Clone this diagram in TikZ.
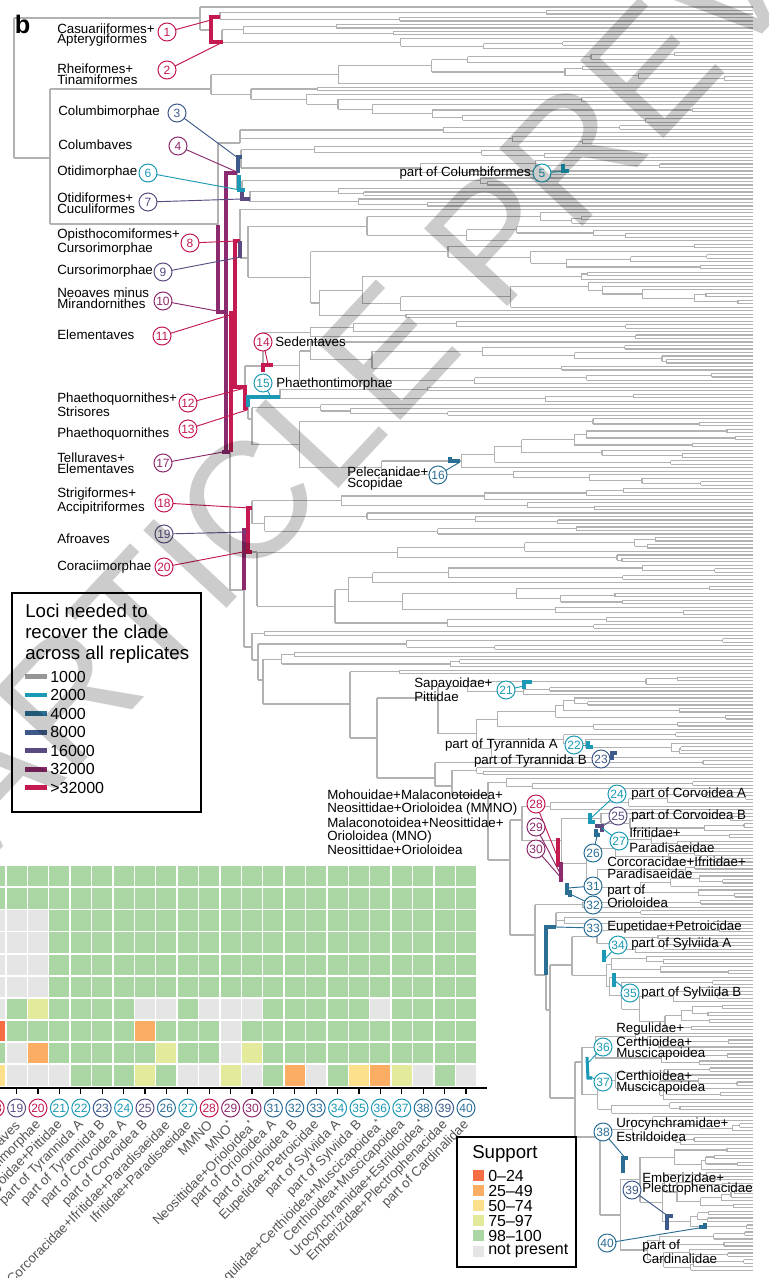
\documentclass[tikz,border=0pt]{standalone}
\usepackage{fontspec}
\setmainfont{Liberation Sans}
\definecolor{brc}{RGB}{178,178,178}
\definecolor{cT}{RGB}{28,154,181}
\definecolor{c4}{RGB}{42,110,150}
\definecolor{c8}{RGB}{62,90,138}
\definecolor{c16}{RGB}{91,75,128}
\definecolor{c32}{RGB}{139,42,108}
\definecolor{cR}{RGB}{196,26,80}
\definecolor{c1k}{RGB}{150,150,150}
\definecolor{hR}{RGB}{244,109,67}
\definecolor{hO}{RGB}{250,173,99}
\definecolor{hW}{RGB}{252,224,139}
\definecolor{hY}{RGB}{228,234,155}
\definecolor{hG}{RGB}{170,214,164}
\definecolor{hX}{RGB}{229,229,229}
\definecolor{labgray}{RGB}{85,85,85}
\tikzset{
  br/.style={draw=brc, line width=0.85pt},
  mk/.style={line width=2.3pt},
  ld/.style={line width=0.7pt},
  num/.style={circle, draw=#1, text=#1, fill=white, line width=0.75pt, minimum size=13.5pt, inner sep=0pt, font=\fontsize{9}{9}\selectfont},
  lab/.style={inner sep=0pt, align=left, font=\fontsize{10}{8}\selectfont},
  clab/.style={inner sep=0pt, text=labgray, font=\fontsize{10}{10}\selectfont, rotate=45, anchor=east},
}
% vertical line spanning three y values
\newcommand\tvspan[4]{%
  \pgfmathsetmacro\tvmin{min(#2,#3,#4)}%
  \pgfmathsetmacro\tvmax{max(#2,#3,#4)}%
  \draw[br] (#1,\tvmin) -- (#1,\tvmax);}
% random subtree with stem from parent x
\newcommand\trtree[3]{%
  \begingroup
  \edef\rlo{#1}\edef\rhi{#2}\edef\rpx{#3}%
  \ifnum\rlo=\rhi\relax
    \pgfmathsetmacro\ry{7+3.49*(\rlo-1)}%
    \draw[br] (\rpx,\ry) -- (753,\ry);
    \xdef\retY{\ry}%
  \else
    \pgfmathsetmacro\rn{\rhi-\rlo+1}%
    \pgfmathsetmacro\rw{min(0.93,0.02+rnd*(0.1+1.6/\rn))}%
    \pgfmathsetmacro\rx{753-(753-\rpx)*(1-\rw)}%
    \trnode{\rlo}{\rhi}{\rx}%
    \draw[br] (\rpx,\retY) -- (\rx,\retY);
  \fi
  \endgroup}
% random node at fixed x
\newcommand\trnode[3]{%
  \begingroup
  \edef\qlo{#1}\edef\qhi{#2}\edef\qx{#3}%
  \ifnum\qlo=\qhi\relax
    \pgfmathsetmacro\qy{7+3.49*(\qlo-1)}%
    \draw[br] (\qx,\qy) -- (753,\qy);
    \xdef\retY{\qy}%
  \else
    \pgfmathtruncatemacro\qm{\qlo+min(floor(rnd*(\qhi-\qlo)),\qhi-\qlo-1)}%
    \pgfmathtruncatemacro\qmm{\qm+1}%
    \trtree{\qlo}{\qm}{\qx}\let\qya\retY
    \trtree{\qmm}{\qhi}{\qx}\let\qyb\retY
    \draw[br] (\qx,\qya) -- (\qx,\qyb);
    \pgfmathsetmacro\qyc{(\qya+\qyb)/2}%
    \xdef\retY{\qyc}%
  \fi
  \endgroup}
% fixed node (x,y) with two random children lo..mid, mid+1..hi
\newcommand\thnode[5]{%
  \begingroup
  \pgfmathtruncatemacro\hmid{#4+1}%
  \trtree{#3}{#4}{#1}\let\hya\retY
  \trtree{\hmid}{#5}{#1}\let\hyb\retY
  \tvspan{#1}{\hya}{\hyb}{#2}%
  \endgroup}

\begin{document}
\begin{tikzpicture}[x=0.75pt, y=-0.75pt]
\useasboundingbox (0,0) rectangle (768,1278);
\clip (0,0) rectangle (768,1278);
\fill[white] (0,0) rectangle (768,1278);
\pgfmathsetseed{11}
% ---------------- tree ----------------
\draw[br] (14,18) -- (14,158);
\draw[br] (14,18) -- (200,18);
\draw[br] (14,158) -- (50,158);
\trnode{1}{1}{200}
\tvspan{200}{7}{30}{18}
\draw[br] (200,30) -- (211,30);
\thnode{220}{17}{2}{3}{5}
\thnode{222}{42}{6}{9}{13}
\draw[br] (211,17) -- (220,17);
\draw[br] (211,42) -- (222,42);
\draw[br] (211,17) -- (211,42);
\draw[br] (50,89) -- (50,224);
\draw[br] (50,89) -- (211,89);
\thnode{211}{89}{14}{23}{34}
\draw[br] (50,224) -- (218,224);
\draw[br] (218,143) -- (218,312);
\draw[br] (218,143) -- (240,143);
\thnode{240}{143}{35}{37}{40}
\draw[br] (218,312) -- (226,312);
\draw[br] (226,173) -- (226,452);
\draw[br] (226,173) -- (237,173);
\draw[br] (237,157) -- (237,190);
\draw[br] (237,157) -- (241,157);
\thnode{241}{157}{41}{44}{49}
\draw[br] (237,190) -- (242,190);
\trtree{50}{52}{242}\let\yMu\retY
\tvspan{242}{\yMu}{199}{190}
\draw[br] (242,199) -- (250,199);
\thnode{250}{199}{53}{55}{58}
\draw[br] (226,452) -- (230,452);
\draw[br] (230,313) -- (230,590);
\draw[br] (230,313) -- (235,313);
\draw[br] (235,241) -- (235,387);
\draw[br] (235,241) -- (240,241);
\trnode{59}{59}{240}
\draw[br] (240,209.4) -- (240,258);
\draw[br] (240,258) -- (248,258);
\thnode{248}{258}{60}{68}{90}
\draw[br] (235,387) -- (245,387);
\draw[br] (245,366) -- (245,408);
\draw[br] (245,366) -- (263,366);
\thnode{263}{366}{91}{96}{109}
\draw[br] (245,408) -- (248,408);
\draw[br] (248,397) -- (248,419);
\draw[br] (248,397) -- (280,397);
\thnode{280}{397}{110}{111}{114}
\draw[br] (248,419) -- (252,419);
\thnode{252}{419}{115}{118}{138}
\draw[br] (230,590) -- (244,590);
\draw[br] (244,530) -- (244,647);
\draw[br] (244,530) -- (248,530);
\draw[br] (248,508) -- (248,552);
\draw[br] (248,508) -- (252,508);
\thnode{252}{508}{139}{145}{152}
\draw[br] (248,552) -- (257,552);
\thnode{257}{552}{153}{160}{179}
\draw[br] (244,647) -- (252,647);
\trtree{180}{181}{252}\let\yCar\retY
\tvspan{252}{\yCar}{660}{647}
\draw[br] (252,660) -- (258,660);
\trtree{182}{185}{258}\let\yFal\retY
\tvspan{258}{\yFal}{680}{660}
\draw[br] (258,680) -- (263,680);
\trtree{186}{190}{263}\let\yPsi\retY
\tvspan{263}{\yPsi}{704}{680}
\draw[br] (263,704) -- (350,704);
\trtree{191}{192}{350}\let\yAc\retY
\tvspan{350}{\yAc}{738}{704}
\draw[br] (350,738) -- (377,738);
\draw[br] (377,698) -- (377,778);
\draw[br] (377,698) -- (438,698);
\thnode{438}{698}{193}{198}{216}
\draw[br] (377,778) -- (435,778);
\trtree{217}{218}{435}\let\yLa\retY
\tvspan{435}{\yLa}{786}{778}
\draw[br] (435,786) -- (452,786);
\trtree{219}{221}{452}\let\yLb\retY
\tvspan{452}{\yLb}{795}{786}
\draw[br] (452,795) -- (488,795);
\trtree{222}{225}{488}\let\yLc\retY
\tvspan{488}{\yLc}{860}{795}
\draw[br] (488,860) -- (510,860);
\draw[br] (510,820) -- (510,935);
\draw[br] (510,820) -- (522,820);
\thnode{522}{820}{226}{231}{256}
\draw[br] (510,935) -- (535,935);
\trtree{257}{259}{535}\let\yPa\retY
\tvspan{535}{\yPa}{975}{935}
\draw[br] (535,975) -- (546,975);
\draw[br] (546,927) -- (546,1010);
\draw[br] (546,927) -- (556,927);
\thnode{556}{927}{260}{261}{264}
\draw[br] (546,1010) -- (550,1010);
\draw[br] (550,965) -- (550,1098);
\draw[br] (550,965) -- (572,965);
\thnode{572}{965}{265}{272}{294}
\draw[br] (550,1098) -- (575,1098);
\draw[br] (575,1062) -- (575,1137);
\draw[br] (575,1062) -- (582,1062);
\thnode{582}{1062}{295}{304}{318}
\draw[br] (575,1137) -- (600,1137);
\thnode{600}{1137}{319}{327}{363}
% ---------------- clade markers ----------------
\draw[mk,cR] (220,17) -- (211,17) -- (211,42) -- (223,42);
\draw[mk,cR] (240,241) -- (235,241) -- (235,387) -- (245,387) -- (245,408) -- (248,408);
\draw[mk,cR] (235,313) -- (231,313) -- (231,452);
\draw[mk,cR] (263,372) -- (263,365) -- (273,365);
\draw[mk,cR] (252,508) -- (248,508) -- (248,552) -- (252,552);
\draw[mk,cR] (558,838) -- (558,867);
\draw[mk,c32] (237,173) -- (226,173) -- (226,452);
\draw[mk,c32] (218,225) -- (218,312) -- (226,312);
\draw[mk,c32] (222,452) -- (230,452);
\draw[mk,c32] (244,528) -- (244,590);
\draw[mk,c32] (561,862) -- (561,882);
\draw[mk,c16] (242,190) -- (242,199) -- (250,199);
\draw[mk,c16] (240,241) -- (240,258);
\draw[mk,c16] (595,826) -- (602,826) -- (602,832);
\draw[mk,c8] (238,173) -- (238,157) -- (242,157);
\draw[mk,c8] (612,760) -- (612,753) -- (617,753);
\draw[mk,c8] (673,1216) -- (667,1216) -- (667,1230);
\draw[mk,c4] (450,457) -- (450,461) -- (460,461);
\draw[mk,c4] (596,829) -- (596,835) -- (600,835);
\draw[mk,c4] (567,883) -- (567,893) -- (572,893);
\draw[mk,c4] (570,890) -- (570,897);
\draw[mk,c4] (556,927) -- (546,927) -- (546,975);
\draw[mk,c4] (628,1158) -- (623,1158) -- (623,1173);
\draw[mk,c4] (699,1227) -- (705,1227) -- (705,1223);
\draw[mk,cT] (563,164) -- (563,171) -- (569,171);
\draw[mk,cT] (239,175) -- (239,190) -- (245,190);
\draw[mk,cT] (248,407) -- (248,397) -- (280,397);
\draw[mk,cT] (524,689) -- (524,682) -- (532,682);
\draw[mk,cT] (588,741) -- (588,747) -- (593,747);
\draw[mk,cT] (590,813) -- (590,822) -- (595,822);
\draw[mk,cT] (604,950) -- (604,962);
\draw[mk,cT] (614,973) -- (614,987);
\draw[mk,cT] (587,1057) -- (588,1078) -- (592,1078);
% ---------------- leader end points ----------------
\coordinate (m1) at (211,20);  \coordinate (m2) at (223,42);
\coordinate (m3) at (238,158); \coordinate (m4) at (237,172);
\coordinate (m5) at (568,171); \coordinate (m6) at (240,190);
\coordinate (m7) at (242,199); \coordinate (m8) at (237,241);
\coordinate (m9) at (241,257); \coordinate (m10) at (217,311);
\coordinate (m11) at (233,314); \coordinate (m12) at (245,388);
\coordinate (m13) at (247,410); \coordinate (m14) at (268,364);
\coordinate (m15) at (270,395); \coordinate (m16) at (460,462);
\coordinate (m17) at (223,452); \coordinate (m18) at (250,508);
\coordinate (m19) at (247,532); \coordinate (m20) at (248,551);
\coordinate (m21) at (524,686); \coordinate (m22) at (588,745);
\coordinate (m23) at (612,757); \coordinate (m24) at (591,818);
\coordinate (m25) at (600,828); \coordinate (m26) at (598,832);
\coordinate (m27) at (602,828); \coordinate (m28) at (560,863);
\coordinate (m29) at (562,877); \coordinate (m30) at (563,880);
\coordinate (m31) at (568,888); \coordinate (m32) at (572,895);
\coordinate (m33) at (556,927); \coordinate (m34) at (604,960);
\coordinate (m35) at (614,980); \coordinate (m36) at (588,1063);
\coordinate (m37) at (590,1077); \coordinate (m38) at (627,1160);
\coordinate (m39) at (668,1216); \coordinate (m40) at (705,1227);
% ---------------- numbered circles ----------------
\foreach \n/\cc/\px/\py in {1/cR/167/32, 2/cR/167/70, 3/c8/177/113, 4/c32/178/146,
  5/cT/542/173, 6/cT/148/173, 7/c16/148/202, 8/cR/190/243, 9/c16/163/272,
  10/c32/163/301, 11/cR/162/336, 12/cR/188/403, 13/cR/188/429, 14/cR/263/342,
  15/cT/263/383, 16/c4/438/475, 17/c32/163/463, 18/cR/164/503, 19/c16/164/534,
  20/cR/164/567, 21/cT/506/690, 22/cT/574/745, 23/c8/601/759, 24/cT/617/794,
  25/c16/618/816, 26/c4/593/853, 27/cT/619/841, 28/cR/536/804, 29/c32/536/827,
  30/c32/536/849, 31/c4/593/886, 32/c4/593/905, 33/c4/593/928, 34/cT/618/945,
  35/cT/630/993, 36/cT/603/1047, 37/cT/603/1082, 38/c4/603/1132, 39/c8/632/1190,
  40/c4/607/1243}{
  \draw[ld,\cc] (\px,\py) -- (m\n);
  \node[num=\cc] (c\n) at (\px,\py) {\n};
}
% ---------------- clade labels ----------------
\node[lab, anchor=west] (l1) at (57,35) {Casuariiformes+\\Apterygiformes};
\node[lab, anchor=west] (l2) at (57,74.5) {Rheiformes+\\Tinamiformes};
\node[lab, anchor=west] (l3) at (58,112) {Columbimorphae};
\node[lab, anchor=west] (l4) at (58,145) {Columbaves};
\node[lab, anchor=west] (l6) at (57,172) {Otidimorphae};
\node[lab, anchor=west] (l7) at (57,203) {Otidiformes+\\Cuculiformes};
\node[lab, anchor=west] (l8) at (57,242) {Opisthocomiformes+\\Cursorimorphae};
\node[lab, anchor=west] (l9) at (57,271) {Cursorimorphae};
\node[lab, anchor=west] (l10) at (57,298.5) {Neoaves minus\\Mirandornithes};
\node[lab, anchor=west] (l11) at (57,335) {Elementaves};
\node[lab, anchor=west] (l12) at (57,405) {Phaethoquornithes+\\Strisores};
\node[lab, anchor=west] (l13) at (57,434) {Phaethoquornithes};
\node[lab, anchor=west] (l17) at (57,463.5) {Telluraves+\\Elementaves};
\node[lab, anchor=west] (l18) at (57,501) {Strigiformes+\\Accipitriformes};
\node[lab, anchor=west] (l19) at (57,539) {Afroaves};
\node[lab, anchor=west] (l20) at (57,567) {Coraciimorphae};
\node[lab, anchor=east] (l5) at (531,173) {part of Columbiformes};
\node[lab, anchor=west] (l14) at (275,342) {Sedentaves};
\node[lab, anchor=west] (l15) at (276,384) {Phaethontimorphae};
\node[lab, anchor=west] (l16) at (347,478.5) {Pelecanidae+\\Scopidae};
\node[lab, anchor=west] (l21) at (414,689.5) {Sapayoidae+\\Pittidae};
\node[lab, anchor=east] (l22) at (558,745) {part of Tyrannida A};
\node[lab, anchor=east] (l23) at (587,761) {part of Tyrannida B};
\node[lab, anchor=west, font=\fontsize{10}{9.75}\selectfont] (l28) at (327,802.5) {Mohouidae+Malaconotoidea+\\Neosittidae+Orioloidea (MMNO)};
\node[lab, anchor=west, font=\fontsize{10}{9.75}\selectfont] (l29) at (327,830.5) {Malaconotoidea+Neosittidae+\\Orioloidea (MNO)};
\node[lab, anchor=west] (l30) at (327,850) {Neosittidae+Orioloidea};
\node[lab, anchor=west] (l24) at (631,794) {part of Corvoidea A};
\node[lab, anchor=west] (l25) at (631,816) {part of Corvoidea B};
\node[lab, anchor=west, font=\fontsize{10}{11.25}\selectfont] (l27) at (629,840.5) {Ifritidae+\\Paradisaeidae};
\node[lab, anchor=west, font=\fontsize{10}{9}\selectfont] (l26) at (607,868) {Corcoracidae+Ifritidae+\\Paradisaeidae};
\node[lab, anchor=west, font=\fontsize{10}{9.75}\selectfont] (l31) at (607,896.5) {part of\\Orioloidea};
\node[lab, anchor=west] (l33) at (607,927) {Eupetidae+Petroicidae};
\node[lab, anchor=west] (l34) at (631,944) {part of Sylviida A};
\node[lab, anchor=west] (l35) at (641,993) {part of Sylviida B};
\node[lab, anchor=west] (l36) at (616,1041.5) {Regulidae+\\Certhioidea+\\Muscicapoidea};
\node[lab, anchor=west] (l37) at (616,1082.5) {Certhioidea+\\Muscicapoidea};
\node[lab, anchor=west] (l38) at (616,1130) {Urocynchramidae+\\Estrildoidea};
\node[lab, anchor=west] (l39) at (642,1184) {Emberizidae+\\Plectrophenacidae};
\node[lab, anchor=west] (l40) at (642,1251.5) {part of\\Cardinalidae};
% ---------------- loci legend ----------------
\draw[fill=white, line width=0.8pt] (12,593) rectangle (201,812);
\node[anchor=north west, inner sep=0pt, align=left, font=\fontsize{14}{15.75}\selectfont] (lt) at (25,604) {Loci needed to\\recover the clade\\across all replicates};
\foreach \cc/\tx [count=\j from 0] in {c1k/1000, cT/2000, c4/4000, c8/8000, c16/16000, c32/32000, cR/{>32000}}{
  \fill[fill=\cc] (25,{676.5+\j*18.55-2.4}) rectangle (47,{676.5+\j*18.55+2.4});
  \node[anchor=west, inner sep=0pt, font=\fontsize{12}{12}\selectfont] (lg\j) at (50,{676.5+\j*18.55}) {\tx};
}
% ---------------- heatmap ----------------
\foreach \row [count=\r] in {
 {G,G,G,G,G,G,G,G,G,G,G,G,G,G,G,G,G,G,G,G,G,G,G},
 {G,G,G,G,G,G,G,G,G,G,G,G,G,G,G,G,G,G,G,G,G,G,G},
 {X,X,X,G,G,G,G,G,G,G,G,G,G,G,G,G,G,G,G,G,G,G,G},
 {X,X,X,G,G,G,G,G,G,G,G,G,G,G,G,G,G,G,G,G,G,G,G},
 {X,X,X,G,G,G,G,G,G,G,G,G,G,G,G,G,G,G,G,G,G,G,G},
 {X,X,X,G,G,G,G,G,G,G,G,G,G,G,G,G,G,G,G,G,G,G,G},
 {X,G,Y,G,G,G,G,X,X,G,X,X,X,G,G,G,G,G,X,G,G,G,G},
 {R,G,G,G,G,G,G,O,G,G,G,X,G,G,G,G,G,G,G,G,G,G,G},
 {G,X,O,G,G,G,G,G,Y,G,G,X,Y,G,G,G,G,G,G,G,G,G,G},
 {W,X,X,X,G,G,G,Y,G,X,X,Y,X,G,O,X,G,W,O,Y,X,G,X}}{
  \foreach \c [count=\k from 18] in \row {
    \fill[fill=h\c] ({466-(40-\k)*21.4-10},{866+(\r-1)*22.13}) rectangle ++(20,20.4);
  }
}
\draw[line width=1.1pt] (0,1088) -- (487,1088);
\foreach \k/\cc/\tx in {18/cR/{Strigiformes+Accipitriformes}, 19/c16/Afroaves, 20/cR/Coraciimorphae,
  21/cT/{Sapayoidae+Pittidae}, 22/cT/{part of Tyrannida A}, 23/c8/{part of Tyrannida B},
  24/cT/{part of Corvoidea A}, 25/c16/{part of Corvoidea B}, 26/c4/{Corcoracidae+Ifritidae+Paradisaeidae},
  27/cT/{Ifritidae+Paradisaeidae}, 28/cR/MMNO, 29/c32/{MNO\textsuperscript{*}},
  30/c32/{Neosittidae+Orioloidea\textsuperscript{*}}, 31/c4/{part of Orioloidea A}, 32/c4/{part of Orioloidea B},
  33/c4/{Eupetidae+Petroicidae}, 34/cT/{part of Sylviida A}, 35/cT/{part of Sylviida B},
  36/cT/{Regulidae+Certhioidea+Muscicapoidea\textsuperscript{*}}, 37/cT/{Certhioidea+Muscicapoidea},
  38/c4/{Urocynchramidae+Estrildoidea\textsuperscript{*}}, 39/c8/{Emberizidae+Plectrophenacidae},
  40/c4/{part of Cardinalidae}}{
  \draw[line width=0.9pt] ({466-(40-\k)*21.4},1088) -- ++(0,6);
  \node[num=\cc] (b\k) at ({466-(40-\k)*21.4},1108) {\k};
  \node[clab] (t\k) at ({466-(40-\k)*21.4+1},1123) {\tx};
}
% ---------------- support legend ----------------
\draw[fill=white, line width=0.8pt] (457,1137) rectangle (576,1267);
\node[anchor=west, inner sep=0pt, font=\fontsize{14}{14}\selectfont] (st) at (472,1154) {Support};
\foreach \cc/\tx [count=\j from 0] in {hR/0–24, hO/25–49, hW/50–74, hY/75–97, hG/98–100, hX/not present}{
  \fill[fill=\cc] (473,{1175.5+\j*15.1-5.5}) rectangle (484,{1175.5+\j*15.1+5.5});
  \node[anchor=west, inner sep=0pt, font=\fontsize{12}{12}\selectfont] (s\j) at (488,{1175.5+\j*15.1}) {\tx};
}
% ---------------- panel letter and watermark ----------------
\node[anchor=north west, inner sep=0pt, font=\bfseries\fontsize{19}{19}\selectfont] (pb) at (14.5,15) {b};
\node[rotate=47, text=black, text opacity=0.2, inner sep=0pt, font=\fontsize{124}{124}\selectfont] (wm) at (464,270) {ARTICLE PREVIEW};
\end{tikzpicture}
\end{document}
